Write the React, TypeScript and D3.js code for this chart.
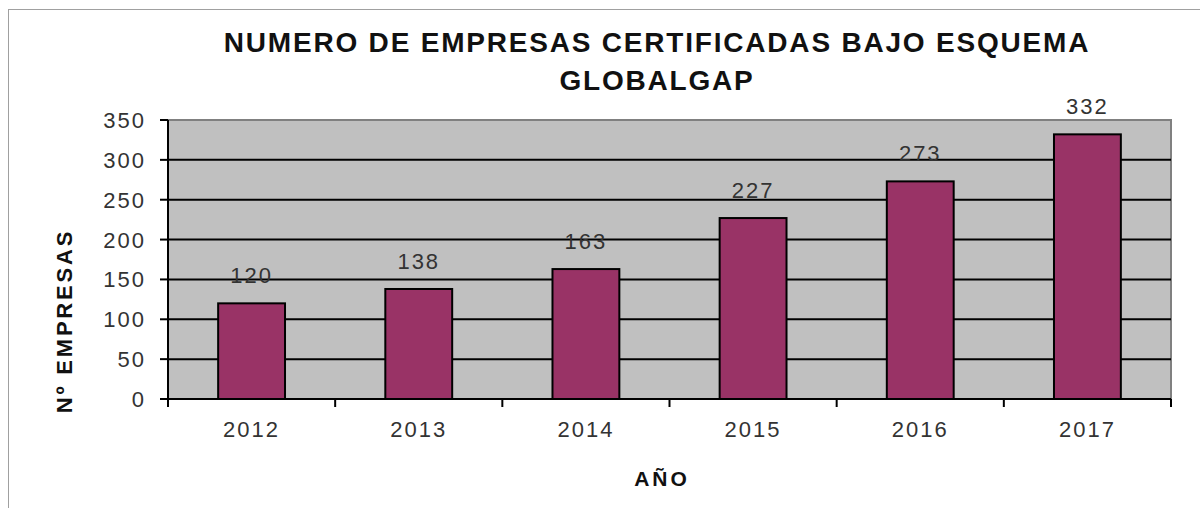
import React, { useEffect, useRef } from 'react';
import * as d3 from 'd3';

const years = ['2012', '2013', '2014', '2015', '2016', '2017'];
const companies = [120, 138, 163, 227, 273, 332];
const yTicks = [0, 50, 100, 150, 200, 250, 300, 350];
const titleLines = ['NUMERO DE EMPRESAS CERTIFICADAS BAJO ESQUEMA', 'GLOBALGAP'];

const App = () => {
    const chartRef = useRef<SVGSVGElement>(null);

    useEffect(() => {
        const svg = d3.select(chartRef.current);
        svg.selectAll('*').remove();

        const width = 1200;
        const height = 508;
        const left = 168, right = 1171, top = 120, bottom = 399;
        const font = '"Liberation Sans", Arial, sans-serif';

        // outer frame (only top and left visible)
        svg.append('rect')
            .attr('x', 8.5).attr('y', 9.5)
            .attr('width', width).attr('height', height)
            .attr('fill', 'white')
            .attr('stroke', '#a0a0a0');

        const x = d3.scaleBand()
            .domain(years)
            .range([left, right])
            .paddingInner(0.6)
            .paddingOuter(0.3);

        const y = d3.scaleLinear()
            .domain([0, 350])
            .range([bottom, top]);

        // plot area
        svg.append('rect')
            .attr('x', left).attr('y', top)
            .attr('width', right - left).attr('height', bottom - top)
            .attr('fill', '#c0c0c0')
            .attr('stroke', '#808080')
            .attr('stroke-width', 2);

        // gridlines
        svg.append('g')
            .selectAll('line')
            .data(yTicks.filter(d => d > 0 && d < 350))
            .enter()
            .append('line')
            .attr('x1', left).attr('x2', right)
            .attr('y1', d => y(d)).attr('y2', d => y(d))
            .attr('stroke', '#000')
            .attr('stroke-width', 2);

        // bars
        svg.append('g')
            .selectAll('rect')
            .data(companies)
            .enter()
            .append('rect')
            .attr('x', (d, i) => x(years[i])!)
            .attr('y', d => y(d))
            .attr('width', x.bandwidth())
            .attr('height', d => bottom - y(d))
            .attr('fill', '#993366')
            .attr('stroke', '#000')
            .attr('stroke-width', 2);

        // data labels
        svg.append('g')
            .selectAll('text')
            .data(companies)
            .enter()
            .append('text')
            .attr('x', (d, i) => x(years[i])! + x.bandwidth() / 2)
            .attr('y', d => y(d) - 20)
            .attr('text-anchor', 'middle')
            .attr('font-family', font)
            .attr('font-size', 22)
            .attr('letter-spacing', 2)
            .attr('fill', '#333')
            .text(d => d);

        // y axis
        const yAxis = svg.append('g');
        yAxis.append('line')
            .attr('x1', left).attr('x2', left)
            .attr('y1', top).attr('y2', bottom)
            .attr('stroke', '#000').attr('stroke-width', 2);
        yAxis.selectAll('line.tick')
            .data(yTicks)
            .enter()
            .append('line')
            .attr('class', 'tick')
            .attr('x1', left - 8).attr('x2', left)
            .attr('y1', d => y(d)).attr('y2', d => y(d))
            .attr('stroke', '#000').attr('stroke-width', 2);
        yAxis.selectAll('text')
            .data(yTicks)
            .enter()
            .append('text')
            .attr('x', left - 22)
            .attr('y', d => y(d) + 8)
            .attr('text-anchor', 'end')
            .attr('font-family', font)
            .attr('font-size', 22)
            .attr('letter-spacing', 2)
            .attr('fill', '#333')
            .text(d => d);

        // x axis
        const xAxis = svg.append('g');
        xAxis.append('line')
            .attr('x1', left).attr('x2', right)
            .attr('y1', bottom).attr('y2', bottom)
            .attr('stroke', '#000').attr('stroke-width', 2);
        const boundaries = years.map(d => x(d)! - x.step() * x.paddingInner() / 2).concat([right]);
        boundaries[0] = left;
        xAxis.selectAll('line.tick')
            .data(boundaries)
            .enter()
            .append('line')
            .attr('class', 'tick')
            .attr('x1', d => d).attr('x2', d => d)
            .attr('y1', bottom).attr('y2', bottom + 8)
            .attr('stroke', '#000').attr('stroke-width', 2);
        xAxis.selectAll('text')
            .data(years)
            .enter()
            .append('text')
            .attr('x', d => x(d)! + x.bandwidth() / 2)
            .attr('y', bottom + 38)
            .attr('text-anchor', 'middle')
            .attr('font-family', font)
            .attr('font-size', 22)
            .attr('letter-spacing', 2)
            .attr('fill', '#333')
            .text(d => d);

        // titles
        svg.append('g')
            .selectAll('text')
            .data(titleLines)
            .enter()
            .append('text')
            .attr('x', 657)
            .attr('y', (d, i) => 52 + i * 38)
            .attr('text-anchor', 'middle')
            .attr('font-family', font)
            .attr('font-size', 28)
            .attr('font-weight', 'bold')
            .attr('letter-spacing', 1.8)
            .attr('fill', '#111')
            .text(d => d);

        svg.append('text')
            .attr('x', 662)
            .attr('y', 486)
            .attr('text-anchor', 'middle')
            .attr('font-family', font)
            .attr('font-size', 21)
            .attr('font-weight', 'bold')
            .attr('letter-spacing', 3)
            .attr('fill', '#111')
            .text('AÑO');

        svg.append('text')
            .attr('transform', 'translate(72, 321) rotate(-90)')
            .attr('text-anchor', 'middle')
            .attr('font-family', font)
            .attr('font-size', 22)
            .attr('font-weight', 'bold')
            .attr('letter-spacing', 2.8)
            .attr('fill', '#111')
            .text('Nº EMPRESAS');
    }, []);

    return (
        <svg ref={chartRef} width={1200} height={508}
            style={{ position: 'absolute', left: 0, top: 0, display: 'block' }} />
    );
};

export default App;
